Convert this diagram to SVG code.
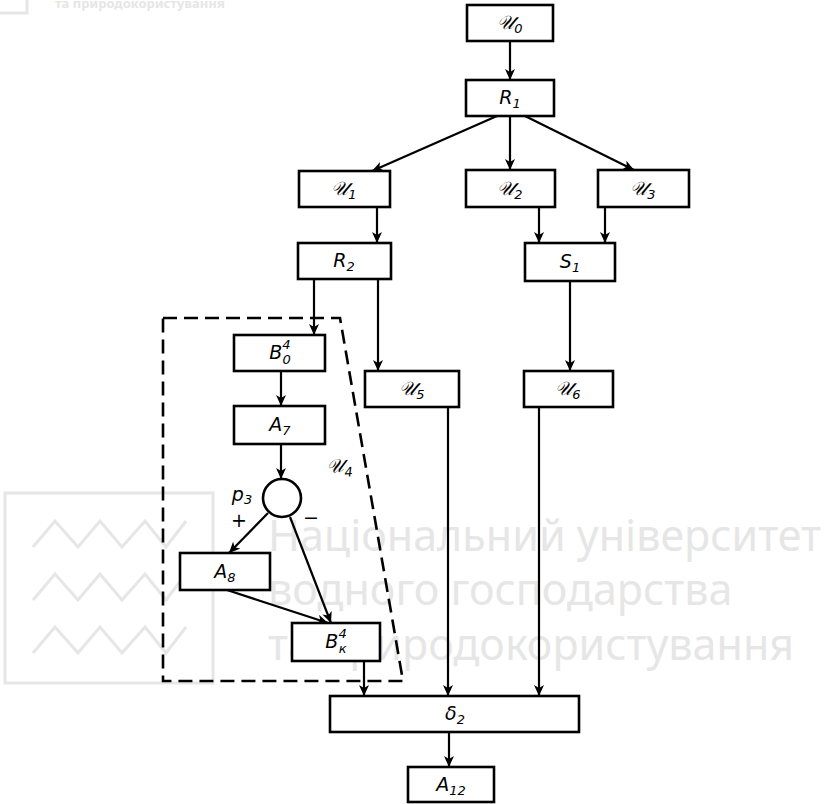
<svg xmlns="http://www.w3.org/2000/svg" width="835" height="804" viewBox="0 0 835 804">
<style>
.box{fill:#fff;stroke:#000;stroke-width:2.6}
.ln{fill:none;stroke:#000;stroke-width:2.2}
.dash{fill:none;stroke:#000;stroke-width:2.6;stroke-dasharray:14 7}
.lb{font-family:"DejaVu Sans",sans-serif;font-style:italic;font-size:19px;fill:#000;text-anchor:middle}
.sub{font-size:13px}
.wm{font-family:"Noto Sans","Open Sans",sans-serif;fill:#e6e6e6}
.wl{fill:none;stroke:#e6e6e6;stroke-width:3}
</style>
<defs>
<marker id="ah" markerUnits="userSpaceOnUse" markerWidth="12" markerHeight="10" refX="11" refY="5" orient="auto">
<path d="M0,0 L11,5 L0,10 L3,5 Z" fill="#000"/>
</marker>
</defs>
<rect width="835" height="804" fill="#fff"/>
<g id="watermark">
<rect x="-3" y="-5" width="30" height="18" class="wl" stroke-width="2"/>
<text x="55" y="8" class="wm" font-size="13" font-weight="bold" fill="#ececec">та природокористування</text>
<rect x="5" y="493" width="208" height="190" class="wl"/>
<polyline class="wl" points="33,547 55,521 78,547 100,521 122,547 145,521 166,547 186,521"/>
<polyline class="wl" points="33,600 55,574 78,600 100,574 122,600 145,574 166,600 186,574"/>
<polyline class="wl" points="33,653 55,627 78,653 100,627 122,653 145,627 166,653 186,627"/>
<text x="268" y="551" class="wm" font-size="43">Національний університет</text>
<text x="268" y="605" class="wm" font-size="43">водного господарства</text>
<text x="268" y="660" class="wm" font-size="43">та природокористування</text>
</g>
<g id="region-U4">
<polygon class="dash" points="163,318 340,318 403,681 163,681"/>
<text x="340" y="472" class="lb" transform="rotate(-4 340 472)">𝒰<tspan class="sub" dy="5">4</tspan></text>
</g>
<g id="connectors">
<line class="ln" x1="510" y1="41" x2="510" y2="80" marker-end="url(#ah)"/>
<line class="ln" x1="497" y1="116" x2="372" y2="171" marker-end="url(#ah)"/>
<line class="ln" x1="510" y1="116" x2="510" y2="170" marker-end="url(#ah)"/>
<line class="ln" x1="525" y1="116" x2="634" y2="170" marker-end="url(#ah)"/>
<line class="ln" x1="377" y1="207" x2="377" y2="243" marker-end="url(#ah)"/>
<line class="ln" x1="539" y1="207" x2="539" y2="243" marker-end="url(#ah)"/>
<line class="ln" x1="605" y1="207" x2="605" y2="243" marker-end="url(#ah)"/>
<line class="ln" x1="314" y1="279" x2="314" y2="335" marker-end="url(#ah)"/>
<line class="ln" x1="378" y1="279" x2="378" y2="371" marker-end="url(#ah)"/>
<line class="ln" x1="570" y1="281" x2="570" y2="371" marker-end="url(#ah)"/>
<line class="ln" x1="281" y1="371" x2="281" y2="406" marker-end="url(#ah)"/>
<line class="ln" x1="281" y1="444" x2="281" y2="479" marker-end="url(#ah)"/>
<line class="ln" x1="268" y1="513" x2="229" y2="553" marker-end="url(#ah)"/>
<line class="ln" x1="290" y1="517" x2="331" y2="623" marker-end="url(#ah)"/>
<line class="ln" x1="227" y1="590" x2="328" y2="623" marker-end="url(#ah)"/>
<line class="ln" x1="364" y1="661" x2="364" y2="696" marker-end="url(#ah)"/>
<line class="ln" x1="448" y1="407" x2="448" y2="696" marker-end="url(#ah)"/>
<line class="ln" x1="539" y1="407" x2="539" y2="696" marker-end="url(#ah)"/>
<line class="ln" x1="449" y1="732" x2="449" y2="767" marker-end="url(#ah)"/>
<text x="242" y="501" class="lb" font-size="17">p<tspan class="sub" dy="3">3</tspan></text>
<text x="239" y="527" class="lb">+</text>
<text x="311" y="524" class="lb">−</text>
</g>
<g id="U0"><rect class="box" x="467" y="5" width="86" height="36"/><text class="lb" x="510" y="29">𝒰<tspan class="sub" dy="4">0</tspan></text></g>
<g id="R1"><rect class="box" x="466" y="80" width="88" height="36"/><text class="lb" x="510" y="104">R<tspan class="sub" dy="4">1</tspan></text></g>
<g id="U1"><rect class="box" x="299" y="171" width="91" height="36"/><text class="lb" x="344" y="195">𝒰<tspan class="sub" dy="4">1</tspan></text></g>
<g id="U2"><rect class="box" x="466" y="170" width="89" height="37"/><text class="lb" x="510" y="195">𝒰<tspan class="sub" dy="4">2</tspan></text></g>
<g id="U3"><rect class="box" x="598" y="170" width="91" height="37"/><text class="lb" x="643" y="195">𝒰<tspan class="sub" dy="4">3</tspan></text></g>
<g id="R2"><rect class="box" x="298" y="243" width="93" height="36"/><text class="lb" x="344" y="267">R<tspan class="sub" dy="4">2</tspan></text></g>
<g id="S1"><rect class="box" x="525" y="243" width="90" height="38"/><text class="lb" x="570" y="268">S<tspan class="sub" dy="4">1</tspan></text></g>
<g id="B04"><rect class="box" x="234" y="335" width="91" height="36"/><text class="lb" x="280" y="359">B<tspan class="sub" dy="-10">4</tspan><tspan class="sub" dx="-8" dy="15">0</tspan></text></g>
<g id="U5"><rect class="box" x="365" y="371" width="94" height="36"/><text class="lb" x="412" y="395">𝒰<tspan class="sub" dy="4">5</tspan></text></g>
<g id="U6"><rect class="box" x="524" y="371" width="89" height="36"/><text class="lb" x="568" y="395">𝒰<tspan class="sub" dy="4">6</tspan></text></g>
<g id="A7"><rect class="box" x="234" y="406" width="91" height="38"/><text class="lb" x="280" y="431">A<tspan class="sub" dy="4">7</tspan></text></g>
<g id="P3"><circle cx="282" cy="498" r="19" fill="#fff" stroke="#000" stroke-width="2.6"/></g>
<g id="A8"><rect class="box" x="180" y="553" width="90" height="37"/><text class="lb" x="225" y="578">A<tspan class="sub" dy="4">8</tspan></text></g>
<g id="Bk4"><rect class="box" x="292" y="623" width="88" height="38"/><text class="lb" x="336" y="648">B<tspan class="sub" dy="-10">4</tspan><tspan class="sub" dx="-8" dy="15">к</tspan></text></g>
<g id="D2"><rect class="box" x="330" y="696" width="249" height="36"/><text class="lb" x="455" y="720">δ<tspan class="sub" dy="4">2</tspan></text></g>
<g id="A12"><rect class="box" x="408" y="767" width="86" height="35"/><text class="lb" x="451" y="791">A<tspan class="sub" dy="4">12</tspan></text></g>
</svg>
